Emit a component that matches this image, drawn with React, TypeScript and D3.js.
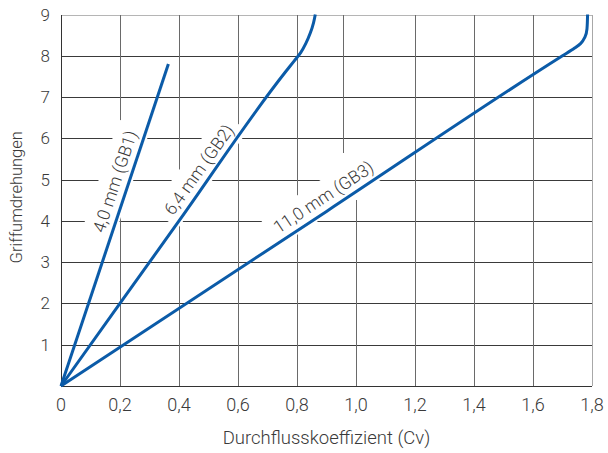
import React, { useRef, useEffect } from 'react';
import * as d3 from 'd3';

// Durchflusskoeffizient (Cv) vs. Griffumdrehungen
const xTicks = [0, 0.2, 0.4, 0.6, 0.8, 1.0, 1.2, 1.4, 1.6, 1.8];
const yTicks = [1, 2, 3, 4, 5, 6, 7, 8, 9];

const gb1Cv = [0, 0.364];
const gb1Turns = [0, 7.8];

const gb2Cv = [0, 0.4, 0.76, 0.79, 0.812, 0.83, 0.845, 0.856, 0.862];
const gb2Turns = [0, 4, 7.6, 7.87, 8.07, 8.3, 8.55, 8.8, 9];

const gb3Cv = [0, 0.9, 1.7, 1.74, 1.762, 1.776, 1.783, 1.785];
const gb3Turns = [0, 4.23, 8.0, 8.18, 8.3, 8.45, 8.65, 9];

const seriesLabels = ['4,0 mm (GB1)', '6,4 mm (GB2)', '11,0 mm (GB3)'];
// where along each line (in turns) the label is centred
const labelAt = [4.85, 5.05, 4.3];

const W = 608;
const H = 453;
const margin = { top: 14.5, right: 16, bottom: 67, left: 61 };
const BLUE = '#0b5ba8';
const TEXT = '#3a3a3a';
const FONT = 'Roboto, sans-serif';

export default function App() {
  const svgRef = useRef<SVGSVGElement>(null);

  useEffect(() => {
    if (!svgRef.current) return;
    const svg = d3.select(svgRef.current);
    svg.selectAll('*').remove();

    const x = d3.scaleLinear().domain([0, 1.8]).range([margin.left, W - margin.right]);
    const y = d3.scaleLinear().domain([0, 9]).range([H - margin.bottom, margin.top]);
    const crisp = (v: number) => Math.round(v) + 0.5;

    const grid = svg.append('g').attr('shape-rendering', 'crispEdges');

    // horizontal grid
    grid.selectAll('.h')
      .data(yTicks)
      .enter()
      .append('line')
      .attr('x1', x(0))
      .attr('x2', x(1.8))
      .attr('y1', d => crisp(y(d)))
      .attr('y2', d => crisp(y(d)))
      .attr('stroke', d => (d === 9 ? '#b5b5b5' : '#3a3a3a'));

    // vertical grid (the upper part of the 1,0 line is shifted in the original)
    grid.selectAll('.v')
      .data(xTicks.slice(1))
      .enter()
      .append('line')
      .attr('x1', d => crisp(x(d)))
      .attr('x2', d => crisp(x(d)))
      .attr('y1', y(0))
      .attr('y2', d => (d === 1.0 ? y(4.5) : y(9)))
      .attr('stroke', d => (d === 1.8 ? '#a8a8a8' : '#6a6a6a'));
    grid.append('line')
      .attr('x1', crisp(x(0.955)))
      .attr('x2', crisp(x(0.955)))
      .attr('y1', y(9))
      .attr('y2', y(5.65))
      .attr('stroke', '#6a6a6a');

    // axis lines
    grid.append('line')
      .attr('x1', crisp(x(0))).attr('x2', crisp(x(0)))
      .attr('y1', y(0)).attr('y2', y(9))
      .attr('stroke', '#333');
    grid.append('line')
      .attr('x1', x(0)).attr('x2', x(1.8))
      .attr('y1', crisp(y(0))).attr('y2', crisp(y(0)))
      .attr('stroke', '#333');

    // tick labels
    svg.append('g')
      .selectAll('text')
      .data(xTicks)
      .enter()
      .append('text')
      .attr('x', d => x(d))
      .attr('y', y(0) + 25)
      .attr('text-anchor', 'middle')
      .attr('font-family', FONT)
      .attr('font-weight', 300)
      .attr('font-size', 18)
      .attr('fill', TEXT)
      .text(d => (d === 0 ? '0' : d3.format('.1f')(d).replace('.', ',')));

    svg.append('g')
      .selectAll('text')
      .data(yTicks)
      .enter()
      .append('text')
      .attr('x', x(0) - 11)
      .attr('y', d => y(d) + 6)
      .attr('text-anchor', 'end')
      .attr('font-family', FONT)
      .attr('font-weight', 300)
      .attr('font-size', 17)
      .attr('fill', TEXT)
      .text(d => String(d));

    // axis titles
    svg.append('text')
      .attr('x', (x(0) + x(1.8)) / 2)
      .attr('y', 444)
      .attr('text-anchor', 'middle')
      .attr('font-family', FONT)
      .attr('font-weight', 300)
      .attr('font-size', 18.5)
      .attr('fill', TEXT)
      .text('Durchflusskoeffizient (Cv)');

    svg.append('text')
      .attr('transform', `translate(22,${(y(0) + y(9)) / 2 - 3}) rotate(-90)`)
      .attr('text-anchor', 'middle')
      .attr('font-family', FONT)
      .attr('font-weight', 300)
      .attr('font-size', 16.5)
      .attr('fill', TEXT)
      .text('Griffumdrehungen');

    const series = [
      { cv: gb1Cv, t: gb1Turns },
      { cv: gb2Cv, t: gb2Turns },
      { cv: gb3Cv, t: gb3Turns },
    ];

    // knockout boxes under the curves, label text on top
    const knockouts = svg.append('g');
    const curves = svg.append('g');
    const labels = svg.append('g');

    series.forEach((s, i) => {
      // label sits along the straight part of each line
      const cvPerTurn = s.cv[1] / s.t[1];
      const turns = labelAt[i];
      const dx = x(cvPerTurn) - x(0);
      const dy = y(0) - y(1);
      const angle = (Math.atan2(dy, dx) * 180) / Math.PI;
      const tf = `translate(${x(turns * cvPerTurn)},${y(turns)}) rotate(${-angle})`;

      const txt = labels.append('text')
        .attr('transform', tf)
        .attr('x', 0)
        .attr('y', -7.5)
        .attr('text-anchor', 'middle')
        .attr('font-family', FONT)
        .attr('font-weight', 300)
        .attr('font-size', 17.5)
        .attr('fill', TEXT)
        .text(seriesLabels[i]);
      const bb = (txt.node() as SVGTextElement).getBBox();
      knockouts.append('rect')
        .attr('transform', tf)
        .attr('x', bb.x - 7)
        .attr('y', bb.y - 6)
        .attr('width', bb.width + 14)
        .attr('height', bb.height + 12)
        .attr('fill', '#fff');

      const pts: [number, number][] = s.cv.map((c, k) => [x(c), y(s.t[k])]);
      curves.append('path')
        .attr('d', d3.line().curve(d3.curveMonotoneY)(pts) || '')
        .attr('fill', 'none')
        .attr('stroke', BLUE)
        .attr('stroke-width', 3);
    });
  }, []);

  return (
    <div style={{ position: 'absolute', left: 0, top: 0, width: W, height: H, background: '#fff' }}>
      <svg ref={svgRef} width={W} height={H} />
    </div>
  );
}
